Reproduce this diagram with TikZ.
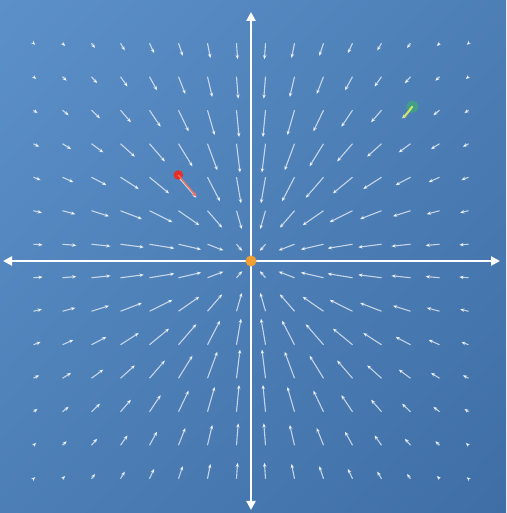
\documentclass[tikz,border=0pt]{standalone}
\usepackage{tikz}
\usetikzlibrary{arrows.meta,calc,shadings}
\definecolor{bgtop}{HTML}{5C90C8}
\definecolor{bgbot}{HTML}{3E6EA5}
\definecolor{origin}{HTML}{F0A033}
\definecolor{probe}{HTML}{E5302A}
\definecolor{probearrow}{HTML}{F07262}
\definecolor{seed}{HTML}{3FB26E}
\definecolor{seedarrow}{HTML}{CDE85C}
\begin{document}
\begin{tikzpicture}[x=1pt,y=1pt,
  field/.style={draw=white,draw opacity=0.68,line width=1.1pt,
                -{Stealth[length=4.4pt,width=3.6pt]}},
  axis/.style={draw=white,line width=2.6pt,
               {Triangle[length=9pt,width=9pt]}-{Triangle[length=9pt,width=9pt]}},
  dot/.style={circle,inner sep=0pt}]
\useasboundingbox (0,0) rectangle (506,513);
\shade[upper left=bgtop,lower right=bgbot,upper right=bgtop!50!bgbot,
       lower left=bgtop!50!bgbot] (0,0) rectangle (506,513);
\coordinate (O) at (251,252);
% sink field, tails on the half-offset grid
\foreach \i in {-7.5,-6.5,...,7.5}
  \foreach \j in {-6.5,-5.5,...,6.5}{
    \pgfmathsetmacro{\g}{0.405*exp(-(\i*\i+\j*\j)/25)}
    \draw[field] ($(O)+(29*\i,33.5*\j)$) -- ++(-29*\g*\i,-33.5*\g*\j);
  }
\coordinate (W) at (3,252);
\coordinate (E) at (500,252);
\coordinate (N) at (251,501);
\coordinate (S) at (251,3);
\draw[axis] (W) -- (E);
\draw[axis] (S) -- (N);
\node[dot,fill=origin,minimum size=11pt] (o) at (O) {};
\node[dot,fill=probe,minimum size=9.5pt] (p) at (178.3,338) {};
\coordinate (pt) at (196.7,316.3);
\draw[probearrow,line width=1.4pt,-{Stealth[length=5pt,width=4pt]}] (p.center) -- (pt);
\node[dot,fill=seed,fill opacity=0.6,minimum size=12pt] (q) at (412.3,406.3) {};
\coordinate (qt) at (404,395.7);
\draw[seedarrow,line width=2pt,line cap=round] (q.center) -- (qt);
\end{tikzpicture}
\end{document}
